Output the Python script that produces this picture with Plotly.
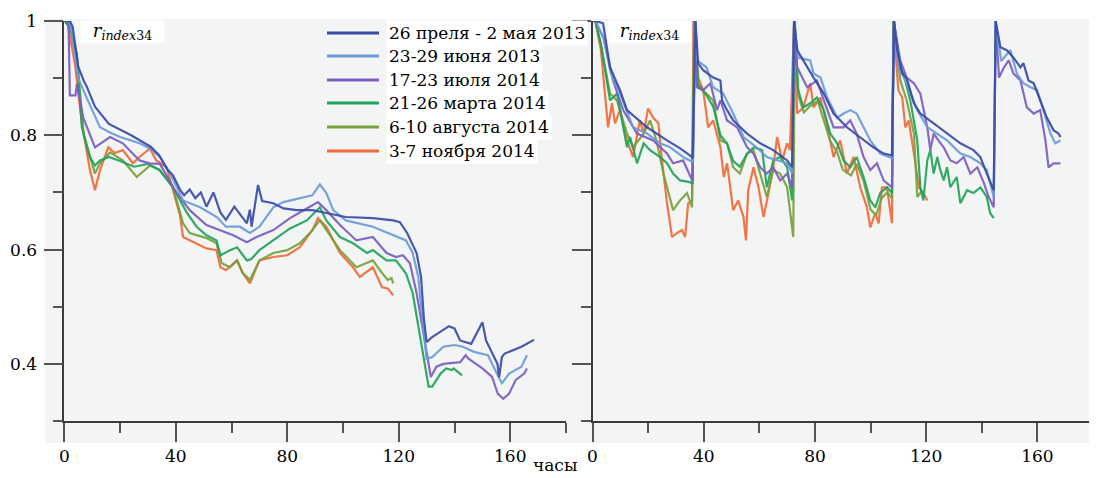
import plotly.graph_objects as go

# ---------------- data (hours, r_index34) ----------------
series_names = ["26 преля - 2 мая 2013", "23-29 июня 2013", "17-23 июля 2014",
                "21-26 марта 2014", "6-10 августа 2014", "3-7 ноября 2014"]
series_colors = ["#3a4ba6", "#6d9bd9", "#7d5ec2", "#22a35a", "#79a23e", "#f26b3a"]

x_ticks = [0, 40, 80, 120, 160]
x_minor = [20, 60, 100, 140, 180]
y_ticks = [0.4, 0.6, 0.8, 1.0]
y_ticktext = ["0.4", "0.6", "0.8", "1"]
y_minor = [0.3, 0.5, 0.7, 0.9]

# ---- left panel ----
L_blue_t = [0, 2, 3, 4, 5, 7, 8, 11, 16, 24, 31, 34, 37, 39, 41.5, 43, 45, 47, 49, 51, 53.5, 56, 58, 61, 63,
            65.5, 66.6, 67.2, 69.5, 71, 75, 78.6, 83.4, 89, 94, 101, 110.7, 118, 120.4, 123, 126.4, 128, 129,
            130, 132, 136, 138, 140, 142, 146, 150, 151.3, 154, 155.4, 156, 157, 158, 164, 168.5]
L_blue_v = [1.0, 1.0, 0.99, 0.95, 0.92, 0.895, 0.886, 0.85, 0.82, 0.80, 0.78, 0.765, 0.74, 0.73, 0.705, 0.695,
            0.705, 0.69, 0.70, 0.675, 0.70, 0.665, 0.652, 0.675, 0.663, 0.646, 0.67, 0.64, 0.713, 0.685, 0.681,
            0.672, 0.669, 0.669, 0.664, 0.657, 0.655, 0.651, 0.648, 0.629, 0.594, 0.552, 0.48, 0.438, 0.447,
            0.459, 0.466, 0.462, 0.441, 0.435, 0.473, 0.441, 0.415, 0.40, 0.377, 0.412, 0.418, 0.43, 0.442]

L_lblue_t = [0, 2, 3.5, 5, 8, 12.8, 16.4, 20, 27, 30.7, 34.3, 38, 42.6, 48.7, 54.7, 58, 63, 66.6, 70, 75, 78.6,
             84.5, 89, 91.7, 94, 96.5, 101, 110.7, 118, 122.6, 125, 127, 128, 130, 132, 136, 140, 143, 147,
             152, 154, 156, 157, 159.6, 164, 166]
L_lblue_v = [1.0, 1.0, 0.95, 0.90, 0.866, 0.814, 0.805, 0.797, 0.786, 0.777, 0.762, 0.733, 0.686, 0.674,
             0.657, 0.64, 0.64, 0.629, 0.64, 0.674, 0.683, 0.69, 0.695, 0.714, 0.699, 0.669, 0.651, 0.64,
             0.625, 0.616, 0.594, 0.552, 0.50, 0.409, 0.412, 0.43, 0.433, 0.43, 0.421, 0.415, 0.395, 0.377,
             0.366, 0.383, 0.395, 0.415]

L_purple_t = [0, 1.5, 2, 4, 4.5, 6.8, 11, 16.4, 21, 27, 30.7, 34.3, 40.3, 45, 51, 56, 60.6, 65.5, 69, 75, 81,
              87, 91, 94, 98.9, 104.8, 110.7, 115.6, 119, 121.5, 124, 126.4, 129, 131.5, 133.5, 136, 142, 144,
              145, 150, 153.5, 155.5, 157.5, 159.6, 162, 165, 166]
L_purple_v = [1.0, 1.0, 0.87, 0.87, 0.89, 0.831, 0.779, 0.797, 0.786, 0.756, 0.751, 0.75, 0.699, 0.669, 0.643,
              0.634, 0.625, 0.613, 0.622, 0.634, 0.655, 0.672, 0.683, 0.669, 0.643, 0.616, 0.622, 0.594, 0.587,
              0.59, 0.576, 0.524, 0.45, 0.377, 0.395, 0.40, 0.403, 0.415, 0.409, 0.392, 0.377, 0.348, 0.339,
              0.348, 0.372, 0.383, 0.392]

L_green_t = [0, 2, 4.5, 6.3, 9.2, 11, 12.8, 16, 20, 25, 30, 34, 39, 44, 47.5, 51, 54.6, 56, 59.5, 62, 65.5, 67,
             70, 75, 81, 87, 91.7, 94, 98.9, 103.6, 108.6, 110.7, 115.6, 119, 122.6, 125, 126.4, 128.5, 130.7,
             132, 135, 137, 139, 139.7, 142.7]
L_green_v = [1.0, 0.99, 0.943, 0.814, 0.762, 0.747, 0.756, 0.762, 0.755, 0.745, 0.75, 0.74, 0.709, 0.664, 0.64,
             0.625, 0.616, 0.59, 0.599, 0.604, 0.581, 0.583, 0.599, 0.616, 0.637, 0.651, 0.674, 0.651, 0.622,
             0.611, 0.594, 0.599, 0.581, 0.581, 0.558, 0.524, 0.482, 0.42, 0.36, 0.36, 0.383, 0.392, 0.389,
             0.392, 0.38]

L_olive_t = [0, 2, 4.5, 7, 11, 12.8, 16.4, 21, 26, 30.7, 34.3, 39, 42.6, 45, 51, 54.6, 56.5, 59.5, 62, 64, 66.6,
             70, 75, 80, 84.5, 89, 91.7, 94, 98.9, 104.8, 110.7, 114, 116, 117.4, 118]
L_olive_v = [1.0, 0.99, 0.94, 0.80, 0.733, 0.751, 0.77, 0.756, 0.727, 0.747, 0.739, 0.709, 0.646, 0.629, 0.62,
             0.611, 0.576, 0.569, 0.581, 0.559, 0.547, 0.581, 0.594, 0.599, 0.611, 0.634, 0.651, 0.634, 0.599,
             0.569, 0.581, 0.559, 0.547, 0.55, 0.541]

L_orange_t = [0, 1, 3.8, 6.3, 9.2, 11, 12.8, 15.8, 18, 21, 24.6, 27, 30.7, 33, 36.7, 39, 41.5, 42.6, 45, 51,
              54.6, 56, 58, 62, 64, 66.6, 70, 75, 80, 84.5, 89, 91, 94, 98.9, 103.6, 106, 110.7, 114, 116, 118]
L_orange_v = [1.0, 1.0, 0.925, 0.821, 0.739, 0.704, 0.739, 0.779, 0.769, 0.774, 0.751, 0.762, 0.777, 0.756,
              0.744, 0.704, 0.66, 0.622, 0.616, 0.602, 0.599, 0.569, 0.564, 0.581, 0.559, 0.541, 0.581, 0.587,
              0.59, 0.604, 0.634, 0.655, 0.64, 0.594, 0.569, 0.552, 0.569, 0.534, 0.532, 0.52]

# ---- right panel ----
R_blue_t = [0, 1, 3.8, 6.3, 8.8, 9.9, 12.4, 19.6, 26.8, 31.5, 35, 36, 37, 38, 39.8, 43.4, 46, 46.6, 48.4, 50.6,
            55.6, 60.3, 65, 70, 71.8, 72.5, 73.6, 77.2, 79.5, 83.2, 86.7, 91.5, 96.3, 101, 104.7, 107.7, 108.5,
            109.6, 111.4, 113, 115.6, 117.9, 122.7, 127.5, 132.3, 137, 139.5, 141.8, 144.3, 145, 146.7, 149,
            151.4, 153.9, 155, 156.8, 158.7, 161, 163.4, 165.8, 167.6, 168.3]
R_blue_v = [1.0, 1.0, 0.996, 0.919, 0.891, 0.879, 0.844, 0.814, 0.791, 0.777, 0.765, 0.76, 1.0, 0.926, 0.914,
            0.901, 0.896, 0.861, 0.844, 0.826, 0.803, 0.786, 0.774, 0.756, 0.744, 1.0, 0.949, 0.919, 0.901, 0.873,
            0.838, 0.814, 0.797, 0.779, 0.768, 0.765, 1.0, 0.949, 0.908, 0.90, 0.856, 0.838, 0.821, 0.803, 0.786,
            0.774, 0.762, 0.733, 0.704, 1.0, 0.954, 0.949, 0.936, 0.919, 0.926, 0.896, 0.891, 0.861, 0.831,
            0.809, 0.803, 0.797]

R_lblue_t = [0, 1, 4, 6.5, 9.9, 14.6, 19.6, 24.3, 27.9, 32.6, 35, 36, 37, 37.6, 41, 43.4, 47, 50.6, 54.3, 59,
             62.7, 66.3, 70, 71.8, 72.5, 74, 78.3, 79.5, 82, 84.4, 88, 90.3, 92.7, 95, 97.5, 99.9, 103.5, 107.7,
             108.5, 110, 113, 116.8, 120.4, 124, 127.5, 132.3, 135.9, 139.5, 141.8, 144.3, 145, 147, 150.3,
             152.6, 155, 157.5, 159.9, 162.2, 164.7, 166.4, 168.3]
R_lblue_v = [1.0, 1.0, 0.97, 0.91, 0.873, 0.814, 0.803, 0.786, 0.779, 0.762, 0.756, 0.752, 1.0, 0.931, 0.919,
             0.884, 0.873, 0.838, 0.797, 0.779, 0.762, 0.756, 0.751, 0.733, 1.0, 0.936, 0.931, 0.908, 0.901,
             0.866, 0.831, 0.838, 0.844, 0.838, 0.814, 0.791, 0.768, 0.76, 1.0, 0.919, 0.891, 0.844, 0.814,
             0.803, 0.791, 0.768, 0.762, 0.751, 0.739, 0.692, 1.0, 0.93, 0.949, 0.908, 0.891, 0.884, 0.879,
             0.844, 0.803, 0.786, 0.791]

R_purple_t = [0, 1, 4, 7.4, 11, 16, 21.8, 26.8, 29, 32.6, 35, 36, 37, 37.6, 39.8, 42.4, 44.8, 46, 48.4, 52,
              55.6, 57.9, 60.3, 62.7, 65, 67.5, 70, 71.8, 72.5, 73.6, 77.2, 80.7, 83.2, 86.7, 90.3, 92.7, 95,
              97.5, 99.9, 102.3, 104.7, 107.7, 108.3, 110.7, 113, 115.6, 117.9, 120.4, 121.5, 122.7, 124.4,
              126.3, 128.7, 131, 133.5, 135.9, 138.4, 140.8, 142.5, 144.3, 145, 146.2, 148, 149.7, 151.4, 153.9,
              156.2, 158.7, 161, 162.9, 164, 165.8, 168.3]
R_purple_v = [1.0, 1.0, 0.97, 0.896, 0.844, 0.803, 0.791, 0.768, 0.751, 0.756, 0.73, 0.72, 1.0, 0.884, 0.879,
              0.891, 0.844, 0.861, 0.826, 0.814, 0.779, 0.768, 0.744, 0.733, 0.744, 0.721, 0.733, 0.709, 1.0,
              0.919, 0.884, 0.896, 0.861, 0.814, 0.814, 0.826, 0.803, 0.762, 0.739, 0.751, 0.721, 0.709, 1.0,
              0.931, 0.901, 0.891, 0.873, 0.814, 0.774, 0.803, 0.791, 0.779, 0.756, 0.751, 0.762, 0.733, 0.744,
              0.716, 0.692, 0.674, 1.0, 0.901, 0.919, 0.931, 0.908, 0.896, 0.849, 0.838, 0.844, 0.791, 0.744,
              0.751, 0.751]

R_green_t = [0, 1, 3, 6.3, 8.8, 12.4, 13.5, 16, 18.4, 20.7, 24.3, 26.8, 29, 31.5, 35, 36, 37, 38, 41, 43.4, 46,
             48.4, 50.6, 53, 55.6, 58, 61, 62.7, 65, 67.5, 70, 71.8, 72.5, 74, 75.8, 78.3, 80.7, 83.2, 85.5, 88,
             90.3, 92.7, 95, 97.5, 99.9, 101.7, 103.5, 106, 107.7, 108.3, 110.7, 112, 114.3, 116.8, 117.9, 119,
             120.4, 121.5, 122.7, 124, 125.1, 126.3, 127.5, 128.7, 131, 132.3, 134.7, 137, 139.5, 141.8, 143,
             144.3]
R_green_v = [1.0, 1.0, 0.96, 0.861, 0.873, 0.779, 0.797, 0.751, 0.786, 0.774, 0.762, 0.751, 0.733, 0.721, 0.718,
             0.715, 1.0, 0.89, 0.87, 0.85, 0.80, 0.785, 0.755, 0.745, 0.768, 0.779, 0.774, 0.709, 0.756, 0.762,
             0.744, 0.686, 1.0, 0.879, 0.849, 0.856, 0.866, 0.844, 0.803, 0.786, 0.756, 0.744, 0.762, 0.727,
             0.686, 0.674, 0.699, 0.709, 0.699, 1.0, 0.919, 0.905, 0.861, 0.791, 0.709, 0.686, 0.756, 0.774,
             0.733, 0.762, 0.739, 0.721, 0.744, 0.709, 0.727, 0.681, 0.704, 0.699, 0.709, 0.692, 0.664, 0.655]

R_olive_t = [0, 1, 3, 6.3, 8.8, 12.4, 14.6, 18.4, 20.7, 23, 25.5, 27.9, 29, 31.5, 34, 35.8, 36.5, 38, 41, 43.4,
             46, 48.4, 50.6, 53, 55.6, 57.9, 60.3, 62.7, 65, 67.5, 70, 72.2, 72.8, 74, 76, 78, 81, 83, 85.5, 88,
             90, 93, 95, 97.5, 100, 102, 104, 106, 107.7, 108.3, 110.7, 113, 115.6, 116.8, 118.6]
R_olive_v = [1.0, 1.0, 0.96, 0.873, 0.861, 0.803, 0.779, 0.803, 0.826, 0.791, 0.733, 0.692, 0.669, 0.686, 0.699,
             0.674, 1.0, 0.884, 0.873, 0.861, 0.791, 0.786, 0.744, 0.733, 0.768, 0.774, 0.733, 0.692, 0.739,
             0.733, 0.709, 0.622, 1.0, 0.87, 0.84, 0.85, 0.86, 0.83, 0.79, 0.77, 0.74, 0.73, 0.75, 0.72, 0.67,
             0.66, 0.69, 0.70, 0.69, 1.0, 0.896, 0.861, 0.803, 0.692, 0.704]

R_orange_t = [0, 1, 3, 5.6, 7, 8.1, 9.9, 12.4, 14.6, 17, 18.4, 20, 21.8, 23.7, 25, 26.8, 28.6, 30.4, 32.2, 33.3,
              34.4, 35.8, 36.3, 38, 39.8, 41.6, 43.4, 46, 47.2, 48.4, 50.6, 52.4, 54.3, 55.2, 56, 57.9, 59.7,
              61.5, 63.3, 65, 66.4, 68.2, 70, 71, 72.5, 73.6, 75.8, 78.3, 79.5, 81.9, 83.7, 85.5, 86.7, 89.1,
              91.5, 93.9, 96.3, 98.7, 99.9, 101.7, 102.9, 104.1, 105.9, 107.7, 108.2, 110, 111.4, 112.5, 113.7,
              115.6, 117.4, 119, 120.4]
R_orange_v = [1.0, 1.0, 0.95, 0.814, 0.856, 0.821, 0.844, 0.791, 0.762, 0.826, 0.803, 0.847, 0.831, 0.821,
              0.756, 0.681, 0.622, 0.629, 0.634, 0.622, 0.681, 0.686, 1.0, 0.901, 0.879, 0.814, 0.826, 0.779,
              0.727, 0.751, 0.669, 0.686, 0.657, 0.616, 0.704, 0.744, 0.709, 0.657, 0.699, 0.744, 0.797, 0.756,
              0.786, 0.774, 1.0, 0.838, 0.849, 0.891, 0.849, 0.866, 0.831, 0.786, 0.762, 0.791, 0.733, 0.762,
              0.709, 0.674, 0.639, 0.664, 0.646, 0.709, 0.709, 0.646, 1.0, 0.879, 0.866, 0.814, 0.826, 0.768,
              0.709, 0.699, 0.686]

left_series = [(L_blue_t, L_blue_v), (L_lblue_t, L_lblue_v), (L_purple_t, L_purple_v),
               (L_green_t, L_green_v), (L_olive_t, L_olive_v), (L_orange_t, L_orange_v)]
right_series = [(R_blue_t, R_blue_v), (R_lblue_t, R_lblue_v), (R_purple_t, R_purple_v),
                (R_green_t, R_green_v), (R_olive_t, R_olive_v), (R_orange_t, R_orange_v)]

# ---------------- figure ----------------
# The page body has an 8px margin; the figure is sized so that it ends exactly at the window edge.
OFF = 8
W, H = 1097 - OFF, 478 - OFF
ML, MR, MT, MB = 64 - OFF, 4, 21 - OFF, 57
PW, PH = W - ML - MR, H - MT - MB


def px2x(px):  # page pixel -> paper x
    return (px - OFF - ML) / PW


def py2y(py):  # page pixel -> paper y
    return (H + OFF - MB - py) / PH


fig = go.Figure()
draw_order = [5, 4, 3, 2, 1, 0]
for axis, series in (("x", left_series), ("x2", right_series)):
    for i in draw_order:
        t, v = series[i]
        fig.add_trace(go.Scatter(x=t, y=v, mode="lines", xaxis=axis, yaxis="y" if axis == "x" else "y2",
                                 line=dict(color=series_colors[i], width=2.2), opacity=0.92,
                                 name=series_names[i], showlegend=False, hoverinfo="skip"))

FONT = "DejaVu Serif"
FS = 17
tickfont = dict(family=FONT, size=FS, color="black")
axcol = "#3a3a3a"
tkcol = "#555555"

common_x = dict(range=[0, 180], tickvals=x_ticks, ticks="outside", ticklen=19, tickwidth=2, tickcolor=tkcol,
                showline=True, linecolor=axcol, linewidth=1.5, showgrid=False, zeroline=False,
                tickfont=tickfont, fixedrange=True,
                minor=dict(tickvals=x_minor, ticks="outside", ticklen=10, tickwidth=2, tickcolor=tkcol,
                           showgrid=False))
common_y = dict(range=[0.3, 1.0], tickvals=y_ticks, ticktext=y_ticktext, ticks="outside", ticklen=19,
                tickwidth=2, tickcolor=tkcol, showline=True, linecolor=axcol, linewidth=1.5, showgrid=False,
                zeroline=False, tickfont=tickfont, fixedrange=True,
                minor=dict(tickvals=y_minor, ticks="outside", ticklen=10, tickwidth=2, tickcolor=tkcol,
                           showgrid=False))

fig.update_layout(
    width=W, height=H, margin=dict(l=ML, r=MR, t=MT, b=MB, autoexpand=False),
    paper_bgcolor="white", plot_bgcolor="rgba(0,0,0,0)", showlegend=False,
    xaxis=dict(domain=[px2x(64.3), px2x(566)], anchor="y", **common_x),
    yaxis=dict(domain=[0, 1], anchor="x", ticklabelstandoff=3, **common_y),
    xaxis2=dict(domain=[px2x(592.5), px2x(1093)], anchor="y2", **common_x),
    yaxis2=dict(domain=[0, 1], anchor="x2", showticklabels=False, **common_y),
)

shapes = [dict(type="rect", xref="paper", yref="paper", x0=px2x(45), x1=px2x(1100), y0=py2y(443), y1=py2y(19),
               fillcolor="#f3f5f4", line=dict(width=0), layer="below")]
annotations = []

# r_index34 labels
for x_left in (80, 607):
    annotations.append(dict(xref="paper", yref="paper", x=px2x(x_left), y=py2y(20), xanchor="left",
                            yanchor="top", width=83, height=21, align="center", bgcolor="white",
                            borderpad=0, showarrow=False,
                            text="<i>r</i><sub><i>index</i>34</sub>",
                            font=dict(family=FONT, size=18, color="black")))

# legend
row_y = [33, 56, 80, 103, 127, 151]
for i, name in enumerate(series_names):
    shapes.append(dict(type="line", xref="paper", yref="paper", x0=px2x(327), x1=px2x(379),
                       y0=py2y(row_y[i]), y1=py2y(row_y[i]), line=dict(color=series_colors[i], width=3)))
    annotations.append(dict(xref="paper", yref="paper", x=px2x(386), y=py2y(row_y[i]), xanchor="left",
                            yanchor="middle", text=name, showarrow=False, bgcolor="white", borderpad=2,
                            font=dict(family=FONT, size=FS, color="black")))

# x-axis title
annotations.append(dict(xref="paper", yref="paper", x=px2x(555), y=py2y(477), xanchor="center",
                        yanchor="bottom", text="часы", showarrow=False,
                        font=dict(family=FONT, size=FS, color="black")))

fig.update_layout(shapes=shapes, annotations=annotations)
fig.write_html("out.html")
